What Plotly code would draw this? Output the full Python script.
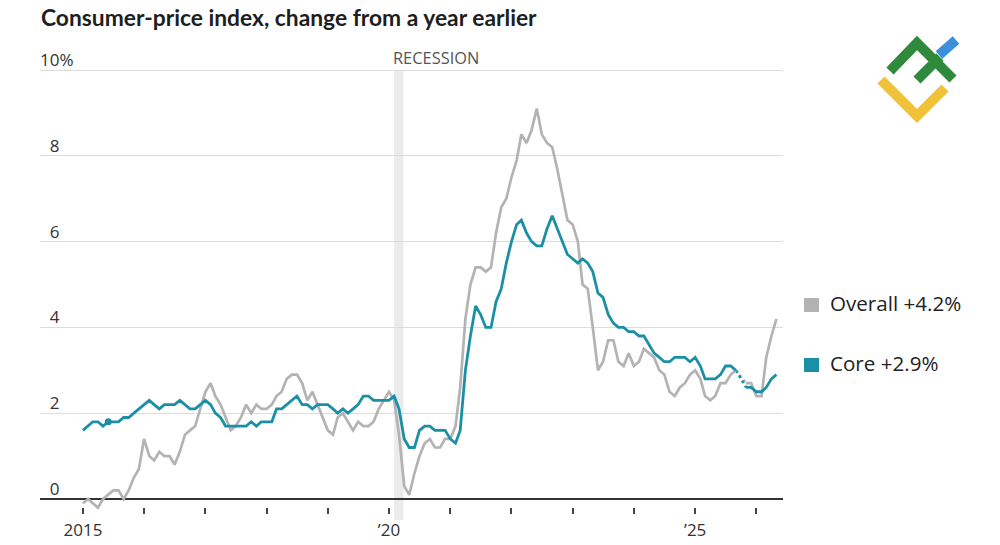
import plotly.graph_objects as go
import pandas as pd

# ---------------- data ----------------
months = [d.strftime("%Y-%m-%d") for d in pd.date_range("2015-01-01", "2026-05-01", freq="MS")]

overall = [
    -0.1, 0.0, -0.1, -0.2, 0.0, 0.1, 0.2, 0.2, 0.0, 0.2, 0.5, 0.7,      # 2015
    1.4, 1.0, 0.9, 1.1, 1.0, 1.0, 0.8, 1.1, 1.5, 1.6, 1.7, 2.1,         # 2016
    2.5, 2.7, 2.4, 2.2, 1.9, 1.6, 1.7, 1.9, 2.2, 2.0, 2.2, 2.1,         # 2017
    2.1, 2.2, 2.4, 2.5, 2.8, 2.9, 2.9, 2.7, 2.3, 2.5, 2.2, 1.9,         # 2018
    1.6, 1.5, 1.9, 2.0, 1.8, 1.6, 1.8, 1.7, 1.7, 1.8, 2.1, 2.3,         # 2019
    2.5, 2.3, 1.5, 0.3, 0.1, 0.6, 1.0, 1.3, 1.4, 1.2, 1.2, 1.4,         # 2020
    1.4, 1.7, 2.6, 4.2, 5.0, 5.4, 5.4, 5.3, 5.4, 6.2, 6.8, 7.0,         # 2021
    7.5, 7.9, 8.5, 8.3, 8.6, 9.1, 8.5, 8.3, 8.2, 7.7, 7.1, 6.5,         # 2022
    6.4, 6.0, 5.0, 4.9, 4.0, 3.0, 3.2, 3.7, 3.7, 3.2, 3.1, 3.4,         # 2023
    3.1, 3.2, 3.5, 3.4, 3.3, 3.0, 2.9, 2.5, 2.4, 2.6, 2.7, 2.9,         # 2024
    3.0, 2.8, 2.4, 2.3, 2.4, 2.7, 2.7, 2.9, 3.0, None, 2.7, 2.7,        # 2025
    2.4, 2.4, 3.3, 3.8, 4.2,                                            # 2026
]

core = [
    1.6, 1.7, 1.8, 1.8, 1.7, 1.8, 1.8, 1.8, 1.9, 1.9, 2.0, 2.1,         # 2015
    2.2, 2.3, 2.2, 2.1, 2.2, 2.2, 2.2, 2.3, 2.2, 2.1, 2.1, 2.2,         # 2016
    2.3, 2.2, 2.0, 1.9, 1.7, 1.7, 1.7, 1.7, 1.7, 1.8, 1.7, 1.8,         # 2017
    1.8, 1.8, 2.1, 2.1, 2.2, 2.3, 2.4, 2.2, 2.2, 2.1, 2.2, 2.2,         # 2018
    2.2, 2.1, 2.0, 2.1, 2.0, 2.1, 2.2, 2.4, 2.4, 2.3, 2.3, 2.3,         # 2019
    2.3, 2.4, 2.1, 1.4, 1.2, 1.2, 1.6, 1.7, 1.7, 1.6, 1.6, 1.6,         # 2020
    1.4, 1.3, 1.6, 3.0, 3.8, 4.5, 4.3, 4.0, 4.0, 4.6, 4.9, 5.5,         # 2021
    6.0, 6.4, 6.5, 6.2, 6.0, 5.9, 5.9, 6.3, 6.6, 6.3, 6.0, 5.7,         # 2022
    5.6, 5.5, 5.6, 5.5, 5.3, 4.8, 4.7, 4.3, 4.1, 4.0, 4.0, 3.9,         # 2023
    3.9, 3.8, 3.8, 3.6, 3.4, 3.3, 3.2, 3.2, 3.3, 3.3, 3.3, 3.2,         # 2024
    3.3, 3.1, 2.8, 2.8, 2.8, 2.9, 3.1, 3.1, 3.0, None, 2.6, 2.6,        # 2025
    2.5, 2.5, 2.6, 2.8, 2.9,                                            # 2026
]

series_names = ["Overall", "Core"]
recession_start = "2020-02-01"
recession_end = "2020-03-28"
highlight_index = 5  # small dot on core line

tick_years = list(range(2015, 2027))
tick_labels = ["2015", "", "", "", "", "\u201920", "", "", "", "", "\u201925", ""]
y_ticks = [0, 2, 4, 6, 8, 10]
y_tick_labels = ["\u20070", "\u20072", "\u20074", "\u20076", "\u20078", "10%"]

# ---------------- styles ----------------
GRAY = "#b3b3b3"
TEAL = "#1b8fa6"
BODY_FONT = "Open Sans"
TITLE_FONT = "Lato"

# plot area in pixels
L, R, T, B = 40, 783, 40, 514
W, H = 1000, 545
PX_PER_UNIT = 42.9
Y_ZERO_PX = 499


def px_x(x):
    return (x - L) / (R - L)


def px_y(y):
    return (B - y) / (B - T)


y_min = -(B - Y_ZERO_PX) / PX_PER_UNIT
y_max = (Y_ZERO_PX - T) / PX_PER_UNIT

fig = go.Figure()

# gap bridges (dotted) where a month is missing
gap_idx = [i for i, v in enumerate(overall) if v is None]
for vals, col in [(overall, GRAY), (core, TEAL)]:
    for i in gap_idx:
        fig.add_trace(go.Scatter(
            x=[months[i - 1], months[i + 1]], y=[vals[i - 1], vals[i + 1]],
            mode="lines", line=dict(color=col, width=2.6, dash="dot"),
            hoverinfo="skip", showlegend=False))

fig.add_trace(go.Scatter(x=months, y=overall, mode="lines", name=series_names[0],
                         line=dict(color=GRAY, width=2.7), connectgaps=False,
                         showlegend=False))
fig.add_trace(go.Scatter(x=months, y=core, mode="lines", name=series_names[1],
                         line=dict(color=TEAL, width=2.8), connectgaps=False,
                         showlegend=False))
fig.add_trace(go.Scatter(x=[months[highlight_index]], y=[core[highlight_index]],
                         mode="markers", marker=dict(color=TEAL, size=7),
                         hoverinfo="skip", showlegend=False))

# recession band
fig.add_shape(type="rect", xref="x", yref="paper",
              x0=recession_start, x1=recession_end,
              y0=px_y(520), y1=px_y(70),
              fillcolor="#ebebeb", line=dict(width=0), layer="below")

annotations = []
annotations.append(dict(
    text="<b>Consumer-price index, change from a year earlier</b>",
    xref="paper", yref="paper", x=px_x(39), y=px_y(17),
    xanchor="left", yanchor="middle", showarrow=False,
    font=dict(family=TITLE_FONT, size=22.8, color="#1e1e1e")))
annotations.append(dict(
    text="RECESSION", xref="x", yref="paper", x=recession_start, y=px_y(58),
    xanchor="left", yanchor="middle", showarrow=False, xshift=-3,
    font=dict(family=BODY_FONT, size=16.4, color="#555555")))

# legend (squares + labels)
last_overall = overall[-1]
last_core = core[-1]
legend_items = [
    (f"{series_names[0]} +{last_overall:.1f}%", GRAY, 305),
    (f"{series_names[1]} +{last_core:.1f}%", TEAL, 365),
]
for label, col, yc in legend_items:
    fig.add_shape(type="rect", xref="paper", yref="paper",
                  x0=px_x(804), x1=px_x(819), y0=px_y(yc + 7), y1=px_y(yc - 7),
                  fillcolor=col, line=dict(width=0))
    annotations.append(dict(
        text=label, xref="paper", yref="paper", x=px_x(828), y=px_y(yc - 2),
        xanchor="left", yanchor="middle", showarrow=False,
        font=dict(family=BODY_FONT, size=20.6, color="#222222")))

# logo (decorative)
logo = [
    ([(939, 55), (956, 40)], "#3b8fdb"),
    ([(881, 80), (917, 116), (945, 88)], "#f0c23a"),
    ([(890, 71), (917, 43), (953, 79)], "#2f8a3b"),
    ([(917, 80), (940, 57)], "#2f8a3b"),
]
for pts, col in logo:
    path = "M " + " L ".join(f"{px_x(x):.5f},{px_y(y):.5f}" for x, y in pts)
    fig.add_shape(type="path", xref="paper", yref="paper", path=path,
                  line=dict(color=col, width=10))

fig.update_layout(
    width=W, height=H,
    margin=dict(l=L, r=W - R, t=T, b=H - B, autoexpand=False),
    paper_bgcolor="white", plot_bgcolor="white",
    font=dict(family=BODY_FONT, size=17, color="#333333"),
    annotations=annotations,
    showlegend=False,
    hovermode=False,
)

fig.update_xaxes(
    type="date",
    range=["2014-04-20", "2026-06-09"],
    tickvals=[f"{y}-01-01" for y in tick_years],
    ticktext=tick_labels,
    ticks="inside", ticklen=6, tickwidth=1.5, tickcolor="#444444",
    showgrid=False, showline=False, zeroline=False,
    tickfont=dict(family=BODY_FONT, size=17, color="#333333"),
    ticklabelstandoff=4, automargin=False,
)

fig.update_yaxes(
    range=[y_min, y_max],
    tickvals=y_ticks, ticktext=y_tick_labels,
    ticklabelposition="inside top",
    ticklabelstandoff=-3, ticklabelshift=2,
    ticks="", showgrid=True, gridcolor="#dcdcdc", gridwidth=1,
    zeroline=True, zerolinecolor="#333333", zerolinewidth=1.5,
    showline=False, automargin=False,
    tickfont=dict(family=BODY_FONT, size=17, color="#333333"),
)

fig.write_html("out.html")
